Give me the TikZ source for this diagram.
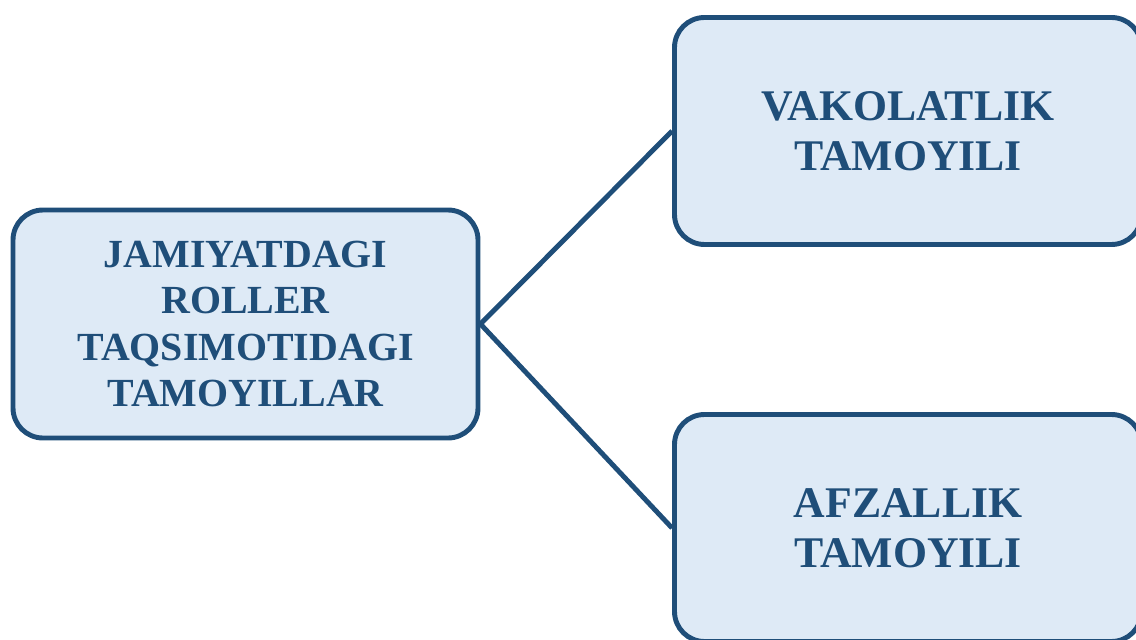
\documentclass[tikz,border=0pt]{standalone}
\usepackage{fontspec}
\setmainfont{Liberation Serif}
\usetikzlibrary{positioning}
\definecolor{DeepBlue}{RGB}{31,78,121}
\definecolor{PaleBlue}{RGB}{222,234,246}

\begin{document}
\begin{tikzpicture}[
      roleBox/.style={draw=DeepBlue,fill=PaleBlue,rounded corners=0.6cm,
                      line width=2.8pt,align=center,text=DeepBlue},
      mainText/.style={font=\fontsize{22.7}{26.4}\selectfont\bfseries},
      branchText/.style={font=\fontsize{24.9}{28.5}\selectfont\bfseries},
      link/.style={DeepBlue,line width=2.8pt}
    ]
    \useasboundingbox (0,0) rectangle (22.72,12.78);

    % Main principle box
    \node(roles)[roleBox,mainText,minimum width=9.3cm,minimum height=4.56cm] at (4.91, 6.30)
      {JAMIYATDAGI\\ROLLER\\TAQSIMOTIDAGI\\TAMOYILLAR};

    % Branch boxes
    \node(vakolat)[roleBox,branchText,minimum width=9.34cm,minimum height=4.54cm] at (18.16, 10.16)
      {VAKOLATLIK\\TAMOYILI};
    \node(afzal)[roleBox,branchText,minimum width=9.34cm,minimum height=4.54cm] at (18.16, 2.22)
      {AFZALLIK\\TAMOYILI};

    % Connectors
    \draw[link] (roles.east) -- (vakolat.west);
    \draw[link] (roles.east) -- (afzal.west);
  \end{tikzpicture}
\end{document}
